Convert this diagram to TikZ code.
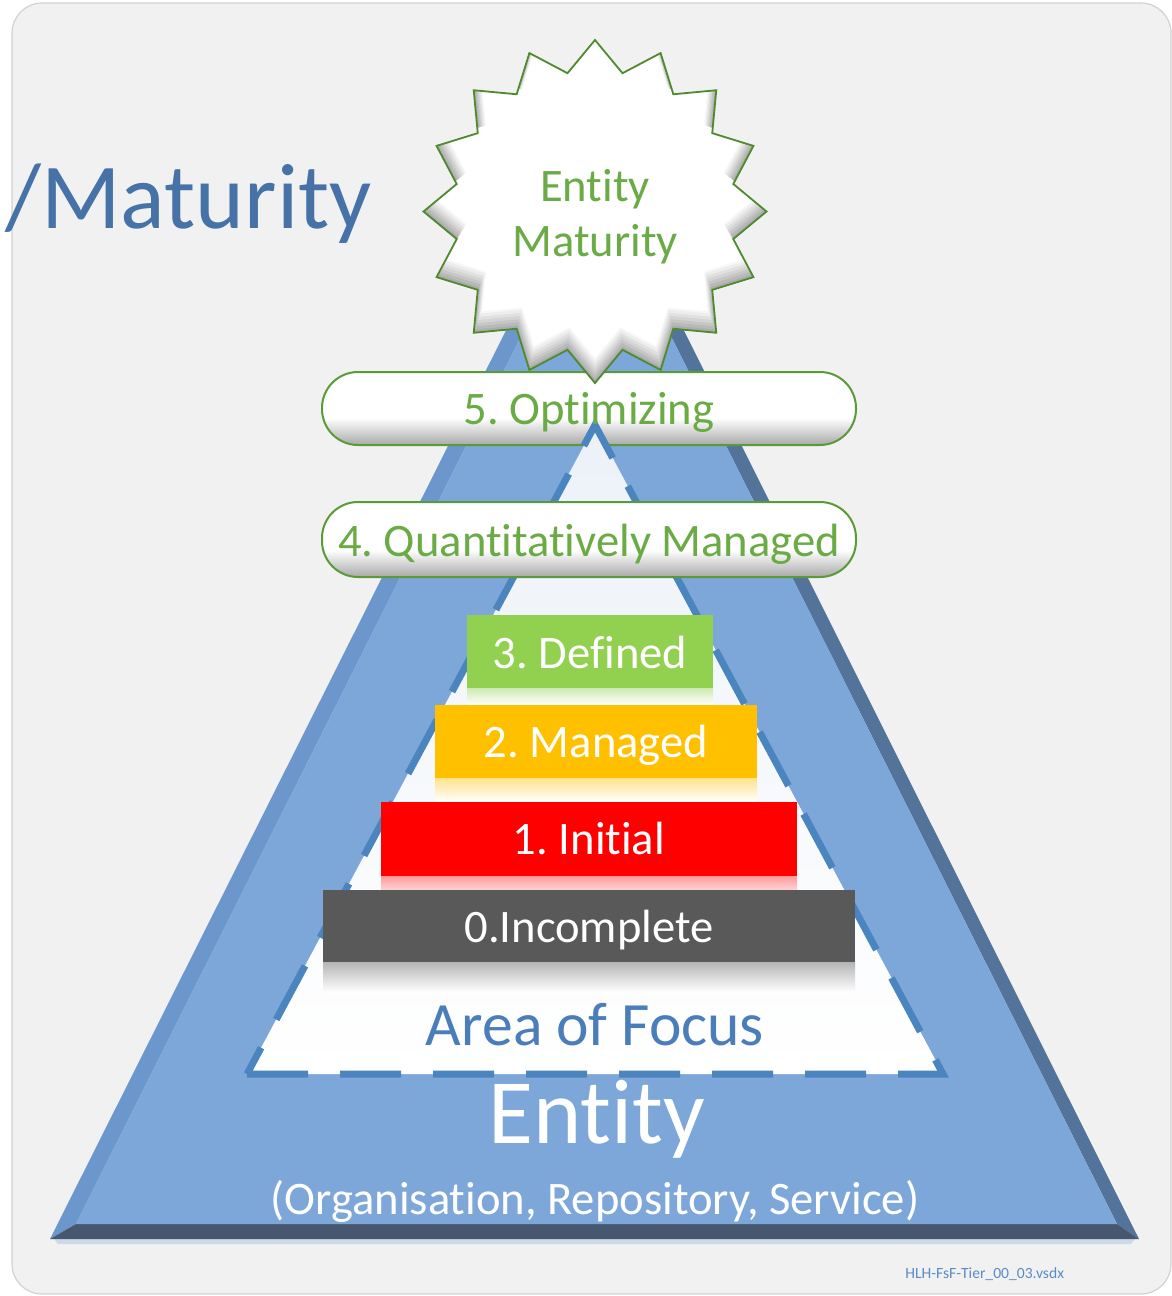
\documentclass[tikz,border=0pt]{standalone}
\usepackage{fontspec}
\setmainfont{Carlito}[Ligatures={NoCommon,NoContextual}]
\frenchspacing
\usetikzlibrary{shapes.geometric}
\definecolor{panelfill}{HTML}{F1F1F1}
\definecolor{panelborder}{HTML}{D2D2D2}
\definecolor{trimain}{HTML}{7DA7D9}
\definecolor{trileft}{HTML}{6C97CC}
\definecolor{triright}{HTML}{54739B}
\definecolor{tribottom}{HTML}{46576F}
\definecolor{dashblue}{HTML}{4A85BF}
\definecolor{greentext}{HTML}{6AAB46}
\definecolor{capborder}{HTML}{5A9A38}
\definecolor{starborder}{HTML}{4E8A2E}
\definecolor{boxgreen}{HTML}{92D050}
\definecolor{boxorange}{HTML}{FFC000}
\definecolor{boxred}{HTML}{FF0000}
\definecolor{boxgray}{HTML}{595959}
\definecolor{areablue}{HTML}{4A7EBB}
\definecolor{titleblue}{HTML}{4672A8}
\definecolor{fileblue}{HTML}{5B8BC7}
\begin{document}
\frenchspacing
\begin{tikzpicture}[x=0.5pt,y=-0.5pt,
  lvltext/.style={font=\fontsize{23.3}{28}\selectfont, text=white, anchor=base, inner sep=0pt},
  captext/.style={font=\fontsize{23.3}{28}\selectfont, text=greentext, anchor=base, inner sep=0pt},
  capsule/.style={draw=capborder, line width=1pt, rounded corners=18pt},
  levelbox/.style={draw=none}]
% canvas
\path[use as bounding box, fill=white] (0,0) rectangle (1172,1296);
% panel
\draw[fill=panelfill, draw=panelborder, line width=0.6pt, rounded corners=15pt] (12,3) rectangle (1171,1294);
% outer triangle with bevel
\coordinate (A) at (595,153);
\coordinate (BL) at (50,1239);
\coordinate (BR) at (1139,1239);
\coordinate (iA) at (596,187);
\coordinate (iBL) at (76,1224);
\coordinate (iBR) at (1117,1224);
\fill[color={rgb,255:red,205;green,217;blue,232}] (54,1239) -- (1135,1239) -- (1131,1244) -- (58,1244) -- cycle;
\fill[trileft] (A) -- (BL) -- (iBL) -- (iA) -- cycle;
\fill[triright] (A) -- (BR) -- (iBR) -- (iA) -- cycle;
\fill[tribottom] (BL) -- (BR) -- (iBR) -- (iBL) -- cycle;
\fill[trimain] (iA) -- (iBL) -- (iBR) -- cycle;
% title fragment
\node[font=\fontsize{46.5}{52}\selectfont, text=titleblue, anchor=base east, inner sep=0pt] (mat) at (372,228) {/Maturity};
% capsule 5
\begin{scope}
  \clip[rounded corners=18pt] (322,372) rectangle (856,445);
  \fill[white] (322,372) rectangle (856,445);
  \shade[top color=white, bottom color=gray!70] (322,418) rectangle (856,446);
\end{scope}
\draw[capsule] (322,372) rectangle (856,445);
% dashed inner triangle
\coordinate (dBL) at (247,1074);
\coordinate (dBR) at (943,1074);
\coordinate (dA) at (595,425);
\shade[top color={rgb,255:red,236;green,241;blue,248}, bottom color=white] (dBL) -- (dBR) -- (dA) -- cycle;
\draw[dashblue, line width=3.5pt, dash pattern=on 30.5pt off 16pt] (dBL) -- (dBR) -- (dA) -- cycle;
% star
\begin{scope}[shift={(595,211.5)}]
  \begin{scope}
    \clip plot[samples at={0,...,31}] (\x*11.25:{ifthenelse(mod(\x,2)==0,171.5,141)}) -- cycle;
    \fill[gray!65] (-200,-200) rectangle (200,200);
    \foreach \s/\c/\dy in {0.99/55/-2, 0.98/45/-4, 0.97/34/-6, 0.96/24/-8, 0.95/14/-10, 0.94/6/-12, 0.93/0/-13} {
      \fill[gray!\c, shift={(0,\dy)}, scale=\s] plot[samples at={0,...,31}] (\x*11.25:{ifthenelse(mod(\x,2)==0,171.5,141)}) -- cycle;
    }
  \end{scope}
  \draw[starborder, line width=0.9pt, line join=miter] plot[samples at={0,...,31}] (\x*11.25:{ifthenelse(mod(\x,2)==0,171.5,141)}) -- cycle;
\end{scope}
\node[captext] (st1) at (595,201) {Entity};
\node[captext] (st2) at (595,256) {Maturity};
% capsule 4
\begin{scope}
  \clip[rounded corners=18pt] (322,502) rectangle (856,577);
  \fill[white] (322,502) rectangle (856,577);
  \shade[top color=white, bottom color=gray!70] (322,550) rectangle (856,578);
\end{scope}
\draw[capsule] (322,502) rectangle (856,577);
\node[captext] (c5) at (589,424) {5. Optimizing};
\node[captext] (c4) at (589,556) {4. Quantitatively Managed};
% level boxes with reflections
\shade[top color=boxgreen!45!white, bottom color=white] (467,688) rectangle (713,705);
\fill[boxgreen] (467,615) rectangle (713,688);
\shade[top color=boxorange!45!white, bottom color=white] (435,778) rectangle (757,802);
\fill[boxorange] (435,705) rectangle (757,778);
\shade[top color=boxred!40!white, bottom color=white] (381,876) rectangle (797,900);
\fill[boxred] (381,802) rectangle (797,876);
\shade[top color=boxgray!45!white, bottom color=white] (323,962) rectangle (855,992);
\fill[boxgray] (323,890) rectangle (855,962);
\node[lvltext] (l3) at (590,668) {3. Defined};
\node[lvltext] (l2) at (596,757) {2. Managed};
\node[lvltext] (l1) at (589,854) {1. Initial};
\node[lvltext] (l0) at (589,942) {0.Incomplete};
% area and entity labels
\node[font=\fontsize{30.8}{36}\selectfont, text=areablue, anchor=base, inner sep=0pt] (area) at (595,1045) {Area of Focus};
\node[font=\fontsize{46}{52}\selectfont, text=white, anchor=base, inner sep=0pt] (ent) at (597,1143) {Entity};
\node[font=\fontsize{23.3}{28}\selectfont, text=white, anchor=base, inner sep=0pt] (entsub) at (595,1214) {(Organisation, Repository, Service)};
\node[font=\fontsize{7.8}{9}\selectfont, text=fileblue, anchor=base west, inner sep=0pt] (file) at (905,1278) {HLH-FsF-Tier\_00\_03.vsdx};
\end{tikzpicture}
\end{document}
